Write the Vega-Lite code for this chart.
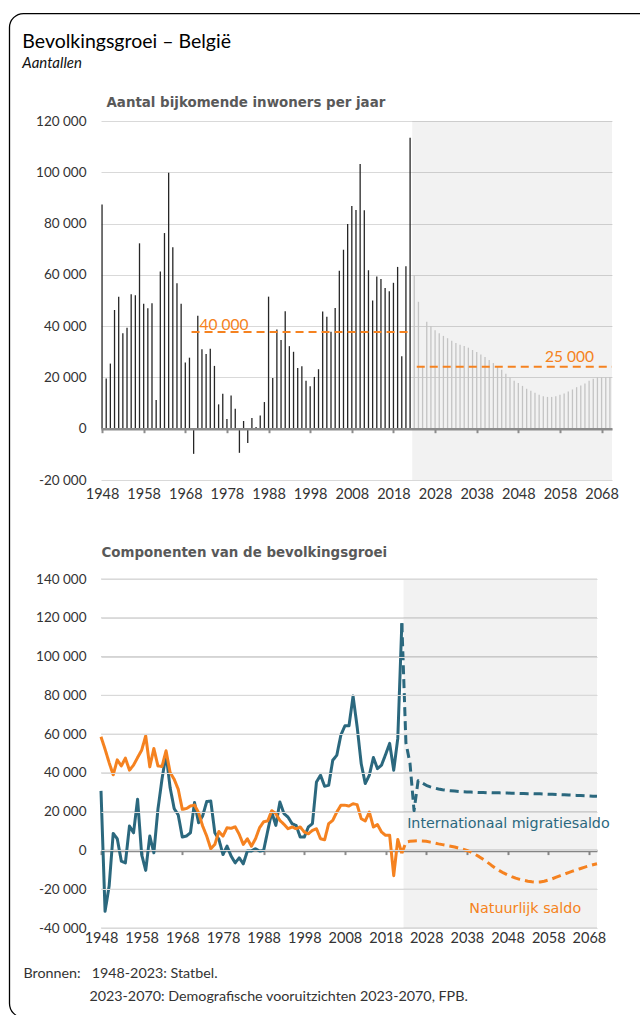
{
  "$schema": "https://vega.github.io/schema/vega-lite/v6.json",
  "background": "white",
  "padding": {"left": 8, "top": 12, "right": -21, "bottom": -2},
  "config": {
    "view": {"stroke": null},
    "font": "Lato",
    "locale": {"number": {"decimal": ",", "thousands": " ", "grouping": [3], "currency": ["€", ""], "minus": "-"}},
    "axis": {"labelFont": "Lato", "labelFontSize": 13.5, "labelColor": "#333333", "labelFlush": false, "labelOverlap": false},
    "axisY": {"domain": false, "ticks": false, "grid": true, "gridColor": "#d9d9d9", "gridWidth": 1, "gridOpacity": 1, "labelPadding": 15},
    "axisX": {"grid": false, "domainColor": "#8c8c8c", "domainWidth": 2.5, "tickColor": "#8c8c8c", "tickWidth": 2, "tickSize": 4, "labelFontSize": 14.5}
  },
  "title": {
    "text": "Bevolkingsgroei – België",
    "subtitle": "Aantallen",
    "anchor": "start",
    "frame": "bounds",
    "font": "Lato",
    "fontSize": 19.5,
    "fontWeight": "normal",
    "color": "#000000",
    "subtitleFont": "Lato",
    "subtitleFontSize": 15,
    "subtitleFontStyle": "italic",
    "subtitleColor": "#111111",
    "subtitlePadding": 3,
    "offset": -59,
    "dx": 13.5
  },
  "bounds": "flush",
  "spacing": 99,
  "resolve": {"scale": {"color": "independent", "strokeDash": "independent"}},
  "datasets": {
    "growth": [
      {"year":1948,"value":87400,"phase":"obs"},{"year":1949,"value":19600,"phase":"obs"},{"year":1950,"value":25400,"phase":"obs"},{"year":1951,"value":46300,"phase":"obs"},{"year":1952,"value":51500,"phase":"obs"},{"year":1953,"value":37200,"phase":"obs"},{"year":1954,"value":39400,"phase":"obs"},{"year":1955,"value":52400,"phase":"obs"},{"year":1956,"value":52000,"phase":"obs"},{"year":1957,"value":72300,"phase":"obs"},
      {"year":1958,"value":48700,"phase":"obs"},{"year":1959,"value":47000,"phase":"obs"},{"year":1960,"value":48900,"phase":"obs"},{"year":1961,"value":11200,"phase":"obs"},{"year":1962,"value":61300,"phase":"obs"},{"year":1963,"value":76300,"phase":"obs"},{"year":1964,"value":99800,"phase":"obs"},{"year":1965,"value":70800,"phase":"obs"},{"year":1966,"value":56700,"phase":"obs"},{"year":1967,"value":48700,"phase":"obs"},
      {"year":1968,"value":25800,"phase":"obs"},{"year":1969,"value":27700,"phase":"obs"},{"year":1970,"value":-9800,"phase":"obs"},{"year":1971,"value":44100,"phase":"obs"},{"year":1972,"value":31000,"phase":"obs"},{"year":1973,"value":29100,"phase":"obs"},{"year":1974,"value":31200,"phase":"obs"},{"year":1975,"value":24500,"phase":"obs"},{"year":1976,"value":9500,"phase":"obs"},{"year":1977,"value":13600,"phase":"obs"},
      {"year":1978,"value":3800,"phase":"obs"},{"year":1979,"value":13000,"phase":"obs"},{"year":1980,"value":7800,"phase":"obs"},{"year":1981,"value":-9400,"phase":"obs"},{"year":1982,"value":3000,"phase":"obs"},{"year":1983,"value":-5600,"phase":"obs"},{"year":1984,"value":4200,"phase":"obs"},{"year":1985,"value":700,"phase":"obs"},{"year":1986,"value":5200,"phase":"obs"},{"year":1987,"value":10400,"phase":"obs"},
      {"year":1988,"value":51500,"phase":"obs"},{"year":1989,"value":19800,"phase":"obs"},{"year":1990,"value":38700,"phase":"obs"},{"year":1991,"value":34600,"phase":"obs"},{"year":1992,"value":45800,"phase":"obs"},{"year":1993,"value":32200,"phase":"obs"},{"year":1994,"value":30000,"phase":"obs"},{"year":1995,"value":23700,"phase":"obs"},{"year":1996,"value":24400,"phase":"obs"},{"year":1997,"value":18700,"phase":"obs"},
      {"year":1998,"value":16600,"phase":"obs"},{"year":1999,"value":20200,"phase":"obs"},{"year":2000,"value":23200,"phase":"obs"},{"year":2001,"value":45700,"phase":"obs"},{"year":2002,"value":43700,"phase":"obs"},{"year":2003,"value":37800,"phase":"obs"},{"year":2004,"value":47100,"phase":"obs"},{"year":2005,"value":61600,"phase":"obs"},{"year":2006,"value":69800,"phase":"obs"},{"year":2007,"value":79800,"phase":"obs"},
      {"year":2008,"value":86900,"phase":"obs"},{"year":2009,"value":85300,"phase":"obs"},{"year":2010,"value":103200,"phase":"obs"},{"year":2011,"value":85200,"phase":"obs"},{"year":2012,"value":61800,"phase":"obs"},{"year":2013,"value":50000,"phase":"obs"},{"year":2014,"value":59400,"phase":"obs"},{"year":2015,"value":58400,"phase":"obs"},{"year":2016,"value":54900,"phase":"obs"},{"year":2017,"value":53600,"phase":"obs"},
      {"year":2018,"value":56900,"phase":"obs"},{"year":2019,"value":63100,"phase":"obs"},{"year":2020,"value":28300,"phase":"obs"},{"year":2021,"value":63400,"phase":"obs"},{"year":2022,"value":113500,"phase":"obs"},
      {"year":2023,"value":59800,"phase":"proj"},{"year":2024,"value":49500,"phase":"proj"},{"year":2025,"value":24500,"phase":"proj"},{"year":2026,"value":41700,"phase":"proj"},{"year":2027,"value":40100,"phase":"proj"},{"year":2028,"value":38400,"phase":"proj"},{"year":2029,"value":37200,"phase":"proj"},{"year":2030,"value":36200,"phase":"proj"},{"year":2031,"value":35300,"phase":"proj"},{"year":2032,"value":34300,"phase":"proj"},
      {"year":2033,"value":33400,"phase":"proj"},{"year":2034,"value":32700,"phase":"proj"},{"year":2035,"value":32300,"phase":"proj"},{"year":2036,"value":31600,"phase":"proj"},{"year":2037,"value":30700,"phase":"proj"},{"year":2038,"value":29900,"phase":"proj"},{"year":2039,"value":28900,"phase":"proj"},{"year":2040,"value":28000,"phase":"proj"},{"year":2041,"value":26800,"phase":"proj"},{"year":2042,"value":25600,"phase":"proj"},
      {"year":2043,"value":24300,"phase":"proj"},{"year":2044,"value":23000,"phase":"proj"},{"year":2045,"value":21400,"phase":"proj"},{"year":2046,"value":20000,"phase":"proj"},{"year":2047,"value":18700,"phase":"proj"},{"year":2048,"value":17800,"phase":"proj"},{"year":2049,"value":16700,"phase":"proj"},{"year":2050,"value":15600,"phase":"proj"},{"year":2051,"value":14800,"phase":"proj"},{"year":2052,"value":14000,"phase":"proj"},
      {"year":2053,"value":13200,"phase":"proj"},{"year":2054,"value":12700,"phase":"proj"},{"year":2055,"value":12400,"phase":"proj"},{"year":2056,"value":12400,"phase":"proj"},{"year":2057,"value":12700,"phase":"proj"},{"year":2058,"value":13200,"phase":"proj"},{"year":2059,"value":13700,"phase":"proj"},{"year":2060,"value":14500,"phase":"proj"},{"year":2061,"value":15300,"phase":"proj"},{"year":2062,"value":16200,"phase":"proj"},
      {"year":2063,"value":16900,"phase":"proj"},{"year":2064,"value":17600,"phase":"proj"},{"year":2065,"value":18700,"phase":"proj"},{"year":2066,"value":19500,"phase":"proj"},{"year":2067,"value":20000,"phase":"proj"},{"year":2068,"value":20100,"phase":"proj"},{"year":2069,"value":20100,"phase":"proj"},{"year":2070,"value":20200,"phase":"proj"}
    ],
    "ref": [
      {"label": "40 000", "start": 1969.5, "end": 2022.5, "value": 37700},
      {"label": "25 000", "start": 2023.6, "end": 2070.5, "value": 24200}
    ],
    "frame": [{"x1": 1925.77, "x2": 2082.27, "y1": 161900, "y2": -229600}],
    "shadeTop": [{"start": 2022.5, "end": 2070.5}],
    "shadeBottom": [{"start": 2022.4, "end": 2070, "lo": -40000, "hi": 140000}],
    "gridBottom": [{"v": -40000}, {"v": -20000}, {"v": 20000}, {"v": 40000}, {"v": 60000}, {"v": 80000}, {"v": 100000}, {"v": 120000}, {"v": 140000}],
    "labels": [
      {"series": "mig", "label": "Internationaal migratiesaldo", "year": 2023.3, "value": 13700},
      {"series": "nat", "label": "Natuurlijk saldo", "year": 2038.6, "value": -30100}
    ],
    "comp": [
      {"year":1948,"series":"mig","phase":"obs","value":30700},{"year":1949,"series":"mig","phase":"obs","value":-31400},{"year":1950,"series":"mig","phase":"obs","value":-18400},{"year":1951,"series":"mig","phase":"obs","value":8800},{"year":1952,"series":"mig","phase":"obs","value":6000},{"year":1953,"series":"mig","phase":"obs","value":-5500},{"year":1954,"series":"mig","phase":"obs","value":-6400},{"year":1955,"series":"mig","phase":"obs","value":12600},{"year":1956,"series":"mig","phase":"obs","value":9100},{"year":1957,"series":"mig","phase":"obs","value":26400},
      {"year":1958,"series":"mig","phase":"obs","value":-2100},{"year":1959,"series":"mig","phase":"obs","value":-10300},{"year":1960,"series":"mig","phase":"obs","value":7400},{"year":1961,"series":"mig","phase":"obs","value":-1200},{"year":1962,"series":"mig","phase":"obs","value":21200},{"year":1963,"series":"mig","phase":"obs","value":36700},{"year":1964,"series":"mig","phase":"obs","value":49700},{"year":1965,"series":"mig","phase":"obs","value":32400},{"year":1966,"series":"mig","phase":"obs","value":21600},{"year":1967,"series":"mig","phase":"obs","value":18300},
      {"year":1968,"series":"mig","phase":"obs","value":6900},{"year":1969,"series":"mig","phase":"obs","value":7400},{"year":1970,"series":"mig","phase":"obs","value":9100},{"year":1971,"series":"mig","phase":"obs","value":24700},{"year":1972,"series":"mig","phase":"obs","value":14300},{"year":1973,"series":"mig","phase":"obs","value":17800},{"year":1974,"series":"mig","phase":"obs","value":25200},{"year":1975,"series":"mig","phase":"obs","value":25500},{"year":1976,"series":"mig","phase":"obs","value":9100},{"year":1977,"series":"mig","phase":"obs","value":5700},
      {"year":1978,"series":"mig","phase":"obs","value":-2100},{"year":1979,"series":"mig","phase":"obs","value":2200},{"year":1980,"series":"mig","phase":"obs","value":-2900},{"year":1981,"series":"mig","phase":"obs","value":-6400},{"year":1982,"series":"mig","phase":"obs","value":-3800},{"year":1983,"series":"mig","phase":"obs","value":-6900},{"year":1984,"series":"mig","phase":"obs","value":-300},{"year":1985,"series":"mig","phase":"obs","value":-300},{"year":1986,"series":"mig","phase":"obs","value":900},{"year":1987,"series":"mig","phase":"obs","value":-300},
      {"year":1988,"series":"mig","phase":"obs","value":0},{"year":1989,"series":"mig","phase":"obs","value":10000},{"year":1990,"series":"mig","phase":"obs","value":19800},{"year":1991,"series":"mig","phase":"obs","value":12900},{"year":1992,"series":"mig","phase":"obs","value":25000},{"year":1993,"series":"mig","phase":"obs","value":19000},{"year":1994,"series":"mig","phase":"obs","value":17200},{"year":1995,"series":"mig","phase":"obs","value":13800},{"year":1996,"series":"mig","phase":"obs","value":12900},{"year":1997,"series":"mig","phase":"obs","value":6900},
      {"year":1998,"series":"mig","phase":"obs","value":6900},{"year":1999,"series":"mig","phase":"obs","value":12100},{"year":2000,"series":"mig","phase":"obs","value":13800},{"year":2001,"series":"mig","phase":"obs","value":35300},{"year":2002,"series":"mig","phase":"obs","value":38800},{"year":2003,"series":"mig","phase":"obs","value":33100},{"year":2004,"series":"mig","phase":"obs","value":33600},{"year":2005,"series":"mig","phase":"obs","value":46500},{"year":2006,"series":"mig","phase":"obs","value":49100},{"year":2007,"series":"mig","phase":"obs","value":59500},
      {"year":2008,"series":"mig","phase":"obs","value":64300},{"year":2009,"series":"mig","phase":"obs","value":64300},{"year":2010,"series":"mig","phase":"obs","value":79600},{"year":2011,"series":"mig","phase":"obs","value":63800},{"year":2012,"series":"mig","phase":"obs","value":44800},{"year":2013,"series":"mig","phase":"obs","value":34500},{"year":2014,"series":"mig","phase":"obs","value":38800},{"year":2015,"series":"mig","phase":"obs","value":47900},{"year":2016,"series":"mig","phase":"obs","value":42200},{"year":2017,"series":"mig","phase":"obs","value":44000},
      {"year":2018,"series":"mig","phase":"obs","value":49500},{"year":2019,"series":"mig","phase":"obs","value":55200},{"year":2020,"series":"mig","phase":"obs","value":41400},{"year":2021,"series":"mig","phase":"obs","value":57800},{"year":2022,"series":"mig","phase":"obs","value":117200},
      {"year":2022,"series":"mig","phase":"proj","value":117200},{"year":2023,"series":"mig","phase":"proj","value":55500},{"year":2024,"series":"mig","phase":"proj","value":45000},{"year":2025,"series":"mig","phase":"proj","value":20500},{"year":2026,"series":"mig","phase":"proj","value":36000},{"year":2027,"series":"mig","phase":"proj","value":34800},{"year":2028,"series":"mig","phase":"proj","value":33600},{"year":2029,"series":"mig","phase":"proj","value":32800},{"year":2030,"series":"mig","phase":"proj","value":32200},{"year":2031,"series":"mig","phase":"proj","value":31700},
      {"year":2032,"series":"mig","phase":"proj","value":31300},{"year":2033,"series":"mig","phase":"proj","value":31000},{"year":2034,"series":"mig","phase":"proj","value":30800},{"year":2035,"series":"mig","phase":"proj","value":30600},{"year":2036,"series":"mig","phase":"proj","value":30400},{"year":2037,"series":"mig","phase":"proj","value":30300},{"year":2038,"series":"mig","phase":"proj","value":30200},{"year":2039,"series":"mig","phase":"proj","value":30100},{"year":2040,"series":"mig","phase":"proj","value":30000},{"year":2041,"series":"mig","phase":"proj","value":29900},
      {"year":2042,"series":"mig","phase":"proj","value":29900},{"year":2043,"series":"mig","phase":"proj","value":29800},{"year":2044,"series":"mig","phase":"proj","value":29800},{"year":2045,"series":"mig","phase":"proj","value":29700},{"year":2046,"series":"mig","phase":"proj","value":29700},{"year":2047,"series":"mig","phase":"proj","value":29600},{"year":2048,"series":"mig","phase":"proj","value":29600},{"year":2049,"series":"mig","phase":"proj","value":29500},{"year":2050,"series":"mig","phase":"proj","value":29500},{"year":2051,"series":"mig","phase":"proj","value":29400},
      {"year":2052,"series":"mig","phase":"proj","value":29400},{"year":2053,"series":"mig","phase":"proj","value":29300},{"year":2054,"series":"mig","phase":"proj","value":29300},{"year":2055,"series":"mig","phase":"proj","value":29200},{"year":2056,"series":"mig","phase":"proj","value":29200},{"year":2057,"series":"mig","phase":"proj","value":29100},{"year":2058,"series":"mig","phase":"proj","value":29000},{"year":2059,"series":"mig","phase":"proj","value":29000},{"year":2060,"series":"mig","phase":"proj","value":28900},{"year":2061,"series":"mig","phase":"proj","value":28800},
      {"year":2062,"series":"mig","phase":"proj","value":28700},{"year":2063,"series":"mig","phase":"proj","value":28600},{"year":2064,"series":"mig","phase":"proj","value":28500},{"year":2065,"series":"mig","phase":"proj","value":28400},{"year":2066,"series":"mig","phase":"proj","value":28300},{"year":2067,"series":"mig","phase":"proj","value":28200},{"year":2068,"series":"mig","phase":"proj","value":28100},{"year":2069,"series":"mig","phase":"proj","value":28000},{"year":2070,"series":"mig","phase":"proj","value":27900},
      {"year":1948,"series":"nat","phase":"obs","value":58600},{"year":1949,"series":"nat","phase":"obs","value":52200},{"year":1950,"series":"nat","phase":"obs","value":45300},{"year":1951,"series":"nat","phase":"obs","value":39000},{"year":1952,"series":"nat","phase":"obs","value":46700},{"year":1953,"series":"nat","phase":"obs","value":43600},{"year":1954,"series":"nat","phase":"obs","value":47600},{"year":1955,"series":"nat","phase":"obs","value":41400},{"year":1956,"series":"nat","phase":"obs","value":44000},{"year":1957,"series":"nat","phase":"obs","value":47900},
      {"year":1958,"series":"nat","phase":"obs","value":51700},{"year":1959,"series":"nat","phase":"obs","value":59100},{"year":1960,"series":"nat","phase":"obs","value":43100},{"year":1961,"series":"nat","phase":"obs","value":52600},{"year":1962,"series":"nat","phase":"obs","value":43600},{"year":1963,"series":"nat","phase":"obs","value":43300},{"year":1964,"series":"nat","phase":"obs","value":51400},{"year":1965,"series":"nat","phase":"obs","value":40200},{"year":1966,"series":"nat","phase":"obs","value":36700},{"year":1967,"series":"nat","phase":"obs","value":31500},
      {"year":1968,"series":"nat","phase":"obs","value":21200},{"year":1969,"series":"nat","phase":"obs","value":21600},{"year":1970,"series":"nat","phase":"obs","value":22900},{"year":1971,"series":"nat","phase":"obs","value":23400},{"year":1972,"series":"nat","phase":"obs","value":19500},{"year":1973,"series":"nat","phase":"obs","value":12600},{"year":1974,"series":"nat","phase":"obs","value":7400},{"year":1975,"series":"nat","phase":"obs","value":900},{"year":1976,"series":"nat","phase":"obs","value":3100},{"year":1977,"series":"nat","phase":"obs","value":9800},
      {"year":1978,"series":"nat","phase":"obs","value":7400},{"year":1979,"series":"nat","phase":"obs","value":11700},{"year":1980,"series":"nat","phase":"obs","value":11400},{"year":1981,"series":"nat","phase":"obs","value":12200},{"year":1982,"series":"nat","phase":"obs","value":8300},{"year":1983,"series":"nat","phase":"obs","value":3100},{"year":1984,"series":"nat","phase":"obs","value":6000},{"year":1985,"series":"nat","phase":"obs","value":2200},{"year":1986,"series":"nat","phase":"obs","value":6000},{"year":1987,"series":"nat","phase":"obs","value":11700},
      {"year":1988,"series":"nat","phase":"obs","value":14800},{"year":1989,"series":"nat","phase":"obs","value":15200},{"year":1990,"series":"nat","phase":"obs","value":20500},{"year":1991,"series":"nat","phase":"obs","value":19000},{"year":1992,"series":"nat","phase":"obs","value":15500},{"year":1993,"series":"nat","phase":"obs","value":13500},{"year":1994,"series":"nat","phase":"obs","value":11200},{"year":1995,"series":"nat","phase":"obs","value":12100},{"year":1996,"series":"nat","phase":"obs","value":11200},{"year":1997,"series":"nat","phase":"obs","value":12100},
      {"year":1998,"series":"nat","phase":"obs","value":9500},{"year":1999,"series":"nat","phase":"obs","value":8600},{"year":2000,"series":"nat","phase":"obs","value":10300},{"year":2001,"series":"nat","phase":"obs","value":11200},{"year":2002,"series":"nat","phase":"obs","value":6000},{"year":2003,"series":"nat","phase":"obs","value":5500},{"year":2004,"series":"nat","phase":"obs","value":13800},{"year":2005,"series":"nat","phase":"obs","value":15500},{"year":2006,"series":"nat","phase":"obs","value":19800},{"year":2007,"series":"nat","phase":"obs","value":23300},
      {"year":2008,"series":"nat","phase":"obs","value":23300},{"year":2009,"series":"nat","phase":"obs","value":22900},{"year":2010,"series":"nat","phase":"obs","value":24100},{"year":2011,"series":"nat","phase":"obs","value":23600},{"year":2012,"series":"nat","phase":"obs","value":16400},{"year":2013,"series":"nat","phase":"obs","value":15200},{"year":2014,"series":"nat","phase":"obs","value":19800},{"year":2015,"series":"nat","phase":"obs","value":12100},{"year":2016,"series":"nat","phase":"obs","value":13300},{"year":2017,"series":"nat","phase":"obs","value":9500},
      {"year":2018,"series":"nat","phase":"obs","value":7800},{"year":2019,"series":"nat","phase":"obs","value":7800},{"year":2020,"series":"nat","phase":"obs","value":-13000},{"year":2021,"series":"nat","phase":"obs","value":5700},{"year":2022,"series":"nat","phase":"obs","value":-1500},
      {"year":2022,"series":"nat","phase":"proj","value":-1500},{"year":2023,"series":"nat","phase":"proj","value":4300},{"year":2024,"series":"nat","phase":"proj","value":4700},{"year":2025,"series":"nat","phase":"proj","value":4900},{"year":2026,"series":"nat","phase":"proj","value":5000},{"year":2027,"series":"nat","phase":"proj","value":4900},{"year":2028,"series":"nat","phase":"proj","value":4700},{"year":2029,"series":"nat","phase":"proj","value":4300},{"year":2030,"series":"nat","phase":"proj","value":3900},{"year":2031,"series":"nat","phase":"proj","value":3400},
      {"year":2032,"series":"nat","phase":"proj","value":3000},{"year":2033,"series":"nat","phase":"proj","value":2600},{"year":2034,"series":"nat","phase":"proj","value":2200},{"year":2035,"series":"nat","phase":"proj","value":1800},{"year":2036,"series":"nat","phase":"proj","value":1200},{"year":2037,"series":"nat","phase":"proj","value":600},{"year":2038,"series":"nat","phase":"proj","value":0},{"year":2039,"series":"nat","phase":"proj","value":-900},{"year":2040,"series":"nat","phase":"proj","value":-2000},{"year":2041,"series":"nat","phase":"proj","value":-3200},
      {"year":2042,"series":"nat","phase":"proj","value":-4600},{"year":2043,"series":"nat","phase":"proj","value":-6000},{"year":2044,"series":"nat","phase":"proj","value":-7600},{"year":2045,"series":"nat","phase":"proj","value":-9100},{"year":2046,"series":"nat","phase":"proj","value":-10400},{"year":2047,"series":"nat","phase":"proj","value":-11600},{"year":2048,"series":"nat","phase":"proj","value":-12600},{"year":2049,"series":"nat","phase":"proj","value":-13500},{"year":2050,"series":"nat","phase":"proj","value":-14300},{"year":2051,"series":"nat","phase":"proj","value":-14900},
      {"year":2052,"series":"nat","phase":"proj","value":-15400},{"year":2053,"series":"nat","phase":"proj","value":-15900},{"year":2054,"series":"nat","phase":"proj","value":-16200},{"year":2055,"series":"nat","phase":"proj","value":-16400},{"year":2056,"series":"nat","phase":"proj","value":-16300},{"year":2057,"series":"nat","phase":"proj","value":-15900},{"year":2058,"series":"nat","phase":"proj","value":-15300},{"year":2059,"series":"nat","phase":"proj","value":-14600},{"year":2060,"series":"nat","phase":"proj","value":-13800},{"year":2061,"series":"nat","phase":"proj","value":-13000},
      {"year":2062,"series":"nat","phase":"proj","value":-12200},{"year":2063,"series":"nat","phase":"proj","value":-11400},{"year":2064,"series":"nat","phase":"proj","value":-10700},{"year":2065,"series":"nat","phase":"proj","value":-10000},{"year":2066,"series":"nat","phase":"proj","value":-9300},{"year":2067,"series":"nat","phase":"proj","value":-8600},{"year":2068,"series":"nat","phase":"proj","value":-8000},{"year":2069,"series":"nat","phase":"proj","value":-7400},{"year":2070,"series":"nat","phase":"proj","value":-6900}
    ]
  },
  "vconcat": [
    {
      "width": 511,
      "height": 359,
      "layer": [
        {
          "data": {"name": "shadeTop"},
          "mark": {"type": "rect", "fill": "#000000", "fillOpacity": 0.052},
          "encoding": {
            "x": {"field": "start", "type": "quantitative",
                  "scale": {"domain": [1947.75, 2070.5], "nice": false, "zero": false},
                  "axis": {"values": [1948, 1958, 1968, 1978, 1988, 1998, 2008, 2018, 2028, 2038, 2048, 2058, 2068], "format": "d", "offset": -51.3, "labelPadding": 55, "zindex": 1, "title": null}},
            "x2": {"field": "end"},
            "y": {"datum": -20000, "type": "quantitative"},
            "y2": {"datum": 120000}
          }
        },
        {
          "data": {"name": "growth"},
          "mark": {"type": "rule", "strokeWidth": 1.3},
          "encoding": {
            "x": {"field": "year", "type": "quantitative"},
            "y": {"field": "value", "type": "quantitative",
                  "scale": {"domain": [-20000, 120000], "nice": false, "zero": false},
                  "axis": {"values": [-20000, 0, 20000, 40000, 60000, 80000, 100000, 120000], "format": ",d", "grid": true, "labelOverlap": false,
                           "title": "Aantal bijkomende inwoners per jaar", "titleAngle": 0, "titleAlign": "left", "titleBaseline": "alphabetic", "titleX": 5, "titleY": -15,
                           "titleFont": "DejaVu Sans", "titleFontSize": 13.4, "titleFontWeight": "bold", "titleColor": "#595959"}},
            "y2": {"datum": 0},
            "color": {"field": "phase", "type": "nominal", "scale": {"domain": ["obs", "proj"], "range": ["#262626", "#c4c4c4"]}, "legend": null}
          }
        },
        {
          "data": {"name": "ref"},
          "mark": {"type": "rule", "strokeDash": [8, 5], "strokeWidth": 2, "color": "#F58220"},
          "encoding": {
            "x": {"field": "start", "type": "quantitative"},
            "x2": {"field": "end"},
            "y": {"field": "value", "type": "quantitative"}
          }
        },
        {
          "data": {"name": "ref"},
          "transform": [{"filter": "datum.label == '40 000'"}],
          "mark": {"type": "text", "align": "left", "baseline": "alphabetic", "dx": 8, "dy": -2, "font": "Lato", "fontSize": 15.5, "color": "#F58220"},
          "encoding": {
            "x": {"field": "start", "type": "quantitative"},
            "y": {"field": "value", "type": "quantitative"},
            "text": {"field": "label"}
          }
        },
        {
          "data": {"name": "ref"},
          "transform": [{"filter": "datum.label == '25 000'"}],
          "mark": {"type": "text", "align": "right", "baseline": "alphabetic", "dx": -18, "dy": -5, "font": "Lato", "fontSize": 15.5, "color": "#F58220"},
          "encoding": {
            "x": {"field": "end", "type": "quantitative"},
            "y": {"field": "value", "type": "quantitative"},
            "text": {"field": "label"}
          }
        },
        {
          "data": {"name": "frame"},
          "mark": {"type": "rect", "clip": false, "filled": false, "stroke": "#000000", "strokeWidth": 1.3, "cornerRadius": 14},
          "encoding": {
            "x": {"field": "x1", "type": "quantitative"},
            "x2": {"field": "x2"},
            "y": {"field": "y1", "type": "quantitative"},
            "y2": {"field": "y2"}
          }
        }
      ]
    },
    {
      "width": 496,
      "height": 349,
      "layer": [
        {
          "data": {"name": "gridBottom"},
          "mark": {"type": "rule", "stroke": "#d2d2d2", "strokeWidth": 1, "opacity": 1},
          "encoding": {
            "y": {"field": "v", "type": "quantitative",
                  "axis": {"values": [-40000, -20000, 0, 20000, 40000, 60000, 80000, 100000, 120000, 140000], "format": ",d", "grid": true, "gridColor": "#d9d9d9", "labelOverlap": false, "tickCount": 10, "zindex": 1,
                           "title": "Componenten van de bevolkingsgroei", "titleAngle": 0, "titleAlign": "left", "titleBaseline": "alphabetic", "titleX": 0, "titleY": -23,
                           "titleFont": "DejaVu Sans", "titleFontSize": 13.4, "titleFontWeight": "bold", "titleColor": "#595959"}}
          }
        },
        {
          "data": {"name": "shadeBottom"},
          "mark": {"type": "rect", "fill": "#000000", "fillOpacity": 0.052},
          "encoding": {
            "x": {"field": "start", "type": "quantitative",
                  "scale": {"domain": [1948, 2070], "nice": false, "zero": false},
                  "axis": {"values": [1948, 1958, 1968, 1978, 1988, 1998, 2008, 2018, 2028, 2038, 2048, 2058, 2068], "format": "d", "offset": -77.4, "labelPadding": 77,
                           "title": ["Bronnen:\u00a0\u00a0\u00a01948-2023: Statbel.", "\u200b\u00a0\u00a0\u00a0\u00a0\u00a0\u00a0\u00a0\u00a0\u00a0\u00a0\u00a0\u00a0\u00a0\u00a0\u00a0\u00a0\u00a0\u00a02023-2070: Demografische vooruitzichten 2023-2070, FPB."],
                           "titleFont": "Lato", "titleFontSize": 14.3, "titleFontWeight": "normal", "titleColor": "#333333", "titleAnchor": "start", "titleAlign": "left", "titleBaseline": "top", "titleX": -78, "titleY": 116, "titleLineHeight": 23}},
            "x2": {"field": "end"},
            "y": {"field": "lo", "type": "quantitative",
                  "scale": {"domain": [-40000, 140000], "nice": false, "zero": false},
                  "axis": {"values": [-40000, -20000, 0, 20000, 40000, 60000, 80000, 100000, 120000, 140000], "format": ",d", "grid": true, "gridColor": "#d9d9d9", "labelOverlap": false, "tickCount": 10, "zindex": 1,
                           "title": "Componenten van de bevolkingsgroei", "titleAngle": 0, "titleAlign": "left", "titleBaseline": "alphabetic", "titleX": 0, "titleY": -23,
                           "titleFont": "DejaVu Sans", "titleFontSize": 13.4, "titleFontWeight": "bold", "titleColor": "#595959"}},
            "y2": {"field": "hi"}
          }
        },
        {
          "data": {"name": "comp"},
          "mark": {"type": "line", "strokeWidth": 3, "strokeJoin": "round"},
          "encoding": {
            "x": {"field": "year", "type": "quantitative"},
            "y": {"field": "value", "type": "quantitative",
                  "axis": {"values": [-40000, -20000, 0, 20000, 40000, 60000, 80000, 100000, 120000, 140000], "format": ",d", "grid": true, "gridColor": "#d9d9d9", "labelOverlap": false, "tickCount": 10, "zindex": 1,
                           "title": "Componenten van de bevolkingsgroei", "titleAngle": 0, "titleAlign": "left", "titleBaseline": "alphabetic", "titleX": 0, "titleY": -23,
                           "titleFont": "DejaVu Sans", "titleFontSize": 13.4, "titleFontWeight": "bold", "titleColor": "#595959"}},
            "color": {"field": "series", "type": "nominal", "scale": {"domain": ["mig", "nat"], "range": ["#2B687E", "#F58220"]}, "legend": null},
            "strokeDash": {"field": "phase", "type": "nominal", "scale": {"domain": ["obs", "proj"], "range": [[1, 0], [9, 5]]}, "legend": null}
          }
        },
        {
          "data": {"name": "labels"},
          "mark": {"type": "text", "align": "left", "baseline": "middle", "font": "DejaVu Sans", "fontSize": 14.3},
          "encoding": {
            "x": {"field": "year", "type": "quantitative"},
            "y": {"field": "value", "type": "quantitative",
                  "axis": {"values": [-40000, -20000, 0, 20000, 40000, 60000, 80000, 100000, 120000, 140000], "format": ",d", "grid": true, "gridColor": "#d9d9d9", "labelOverlap": false, "tickCount": 10, "zindex": 1,
                           "title": "Componenten van de bevolkingsgroei", "titleAngle": 0, "titleAlign": "left", "titleBaseline": "alphabetic", "titleX": 0, "titleY": -23,
                           "titleFont": "DejaVu Sans", "titleFontSize": 13.4, "titleFontWeight": "bold", "titleColor": "#595959"}},
            "text": {"field": "label"},
            "color": {"field": "series", "type": "nominal", "legend": null}
          }
        }
      ]
    }
  ]
}
